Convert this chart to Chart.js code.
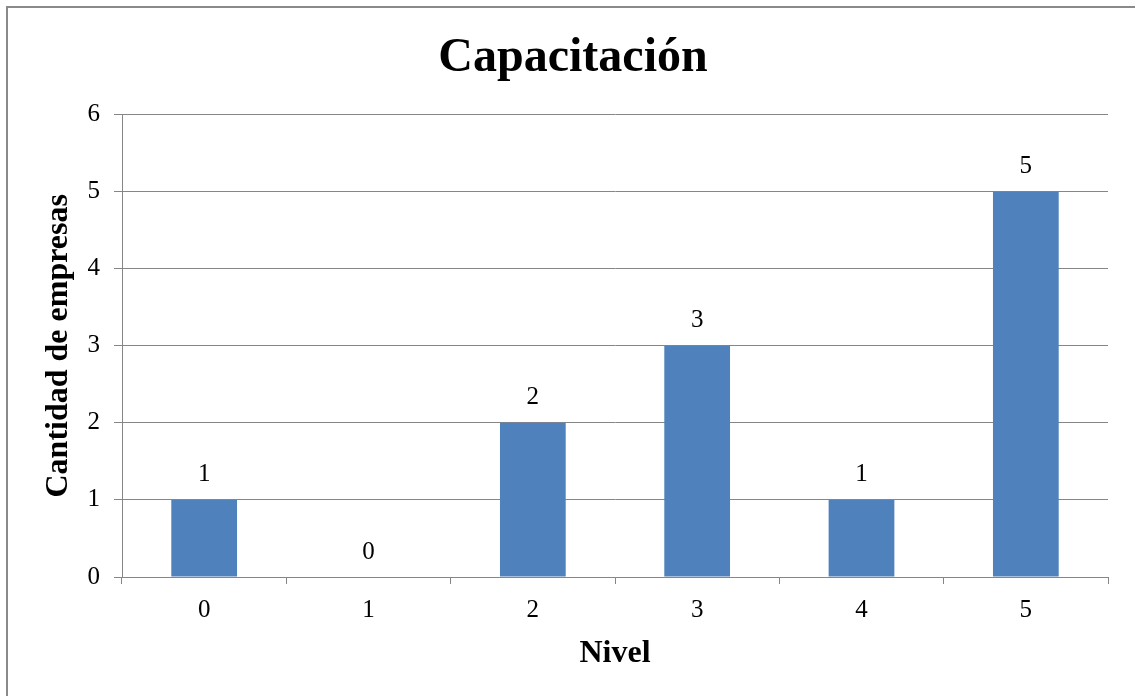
<!DOCTYPE html>
<html lang="es">
<head>
    <meta charset="UTF-8">
    <title>Capacitación</title>
    <script src="https://cdn.jsdelivr.net/npm/chart.js@4/dist/chart.umd.min.js"></script>
    <style>
        html, body { margin: 0; padding: 0; background: #fff; overflow: hidden; }
        #wrap { position: relative; width: 1135px; height: 696px; }
        #marco {
            position: absolute; left: 6px; top: 6px; width: 1300px; height: 900px;
            border: 2px solid #8a8a8a; pointer-events: none;
        }
    </style>
</head>
<body>
<div id="wrap">
    <canvas id="myChart" width="1135" height="696"></canvas>
    <div id="marco"></div>
</div>

<script>
    // datos
    const niveles = ['0', '1', '2', '3', '4', '5'];
    const empresas = [1, 0, 2, 3, 1, 5];
    const yMin = 0;
    const yMax = 6;
    const yPaso = 1;

    const gris = '#868686';
    const fuente = "'Liberation Serif', 'Times New Roman', serif";

    // etiquetas de valor encima de cada barra
    const etiquetasValor = {
        id: 'etiquetasValor',
        afterDatasetsDraw(chart) {
            const ctx = chart.ctx;
            const meta = chart.getDatasetMeta(0);
            ctx.save();
            ctx.font = '25px ' + fuente;
            ctx.fillStyle = '#000';
            ctx.textAlign = 'center';
            ctx.textBaseline = 'middle';
            meta.data.forEach(function (bar, i) {
                ctx.fillText(String(chart.data.datasets[0].data[i]), bar.x, bar.y - 25);
            });
            ctx.restore();
        }
    };

    const ctx = document.getElementById('myChart').getContext('2d');
    const myChart = new Chart(ctx, {
        type: 'bar',
        data: {
            labels: niveles,
            datasets: [{
                data: empresas,
                backgroundColor: '#4F81BD',
                borderWidth: 0,
                barPercentage: 0.4,
                categoryPercentage: 1
            }]
        },
        options: {
            responsive: false,
            animation: false,
            // padding izquierdo para centrar el título en el marco
            layout: { padding: { left: 38, right: 27, top: 0, bottom: 0 } },
            plugins: {
                legend: { display: false },
                tooltip: { enabled: false },
                title: {
                    display: true,
                    text: 'Capacitación',
                    color: '#000',
                    font: { family: fuente, size: 48, weight: 'bold' },
                    padding: { top: 30, bottom: 27 }
                }
            },
            scales: {
                x: {
                    grid: {
                        offset: true,
                        drawOnChartArea: false,
                        color: gris,
                        tickLength: 7
                    },
                    border: { display: true, color: gris },
                    ticks: {
                        color: '#000',
                        padding: 11,
                        font: { family: fuente, size: 25 }
                    },
                    title: {
                        display: true,
                        text: 'Nivel',
                        color: '#000',
                        font: { family: fuente, size: 32, weight: 'bold' },
                        padding: { top: 0, bottom: 23 }
                    },
                    afterFit: function (s) { s.height = 119; }
                },
                y: {
                    min: yMin,
                    max: yMax,
                    grid: { color: gris, tickLength: 8 },
                    border: { display: true, color: gris },
                    ticks: {
                        stepSize: yPaso,
                        color: '#000',
                        padding: 14,
                        font: { family: fuente, size: 25 }
                    },
                    title: {
                        display: true,
                        text: 'Cantidad de empresas',
                        color: '#000',
                        font: { family: fuente, size: 32, weight: 'bold' },
                        padding: { top: 2, bottom: 0 }
                    },
                    afterFit: function (s) { s.width = 84; }
                }
            }
        },
        plugins: [etiquetasValor]
    });
</script>
</body>
</html>
